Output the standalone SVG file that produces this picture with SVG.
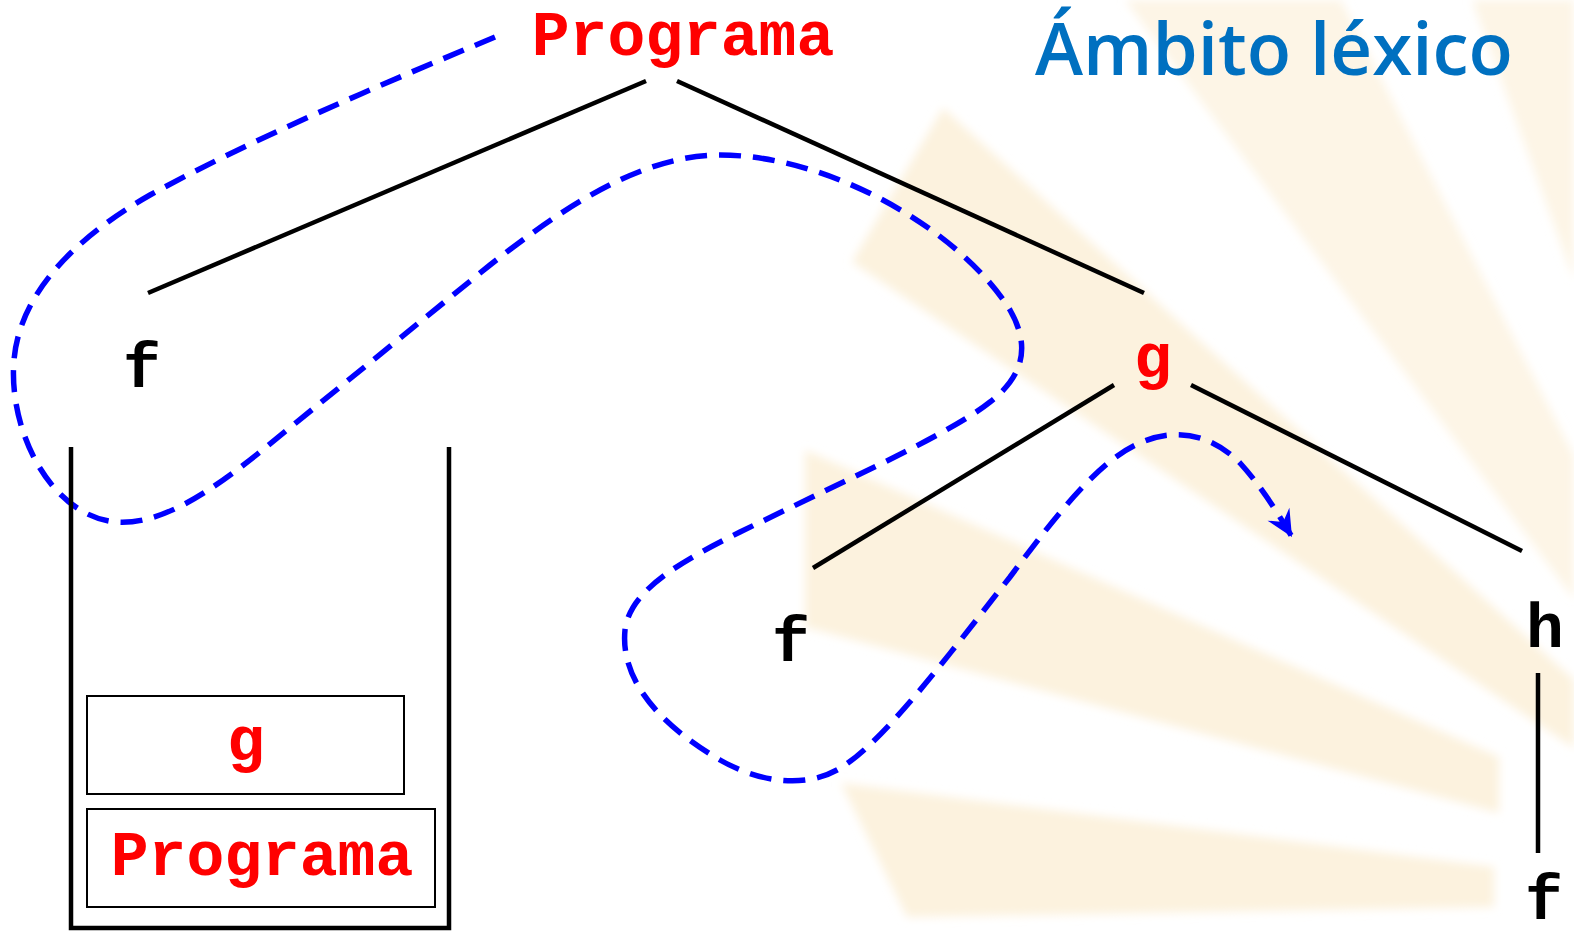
<svg xmlns="http://www.w3.org/2000/svg" width="1574" height="937" viewBox="0 0 1574 937">
<style>
.code{font-family:"Liberation Mono","DejaVu Sans Mono",monospace;font-weight:bold;font-size:63px;text-anchor:middle}
.red{fill:#ff0000}
.blk{fill:#000000}
.edge{stroke:#000;stroke-width:4.5;fill:none}
.ray{fill:#fcf2de}
.box{fill:none;stroke:#000;stroke-width:2}
.trace{fill:none;stroke:#0000ff;stroke-width:5.5;stroke-dasharray:22 12}
</style>
<defs>
<filter id="soft" x="-5%" y="-5%" width="110%" height="110%"><feGaussianBlur stdDeviation="5"/></filter>
<marker id="arr" markerUnits="userSpaceOnUse" markerWidth="30" markerHeight="30" viewBox="-24 -12 26 24" refX="0" refY="0" orient="auto">
<path d="M0,0 L-23,-11 L-15,0 L-23,11 Z" fill="#0000ff"/>
</marker>
</defs>
<rect width="1574" height="937" fill="#ffffff"/>
<g id="background" filter="url(#soft)">
<polygon class="ray" points="943,108 1574,680 1574,748 852,262"/>
<polygon class="ray" points="805,450 1499,757 1499,813 805,627"/>
<polygon class="ray" points="841,783 1494,867 1494,907 907,917"/>
<polygon class="ray" points="1125,0 1341,0 1574,456 1574,599" opacity="0.75"/>
<polygon class="ray" points="1472,0 1574,0 1574,280" opacity="0.75"/>
</g>
<g id="title">
<text x="1035" y="75" font-family="'Open Sans','DejaVu Sans',sans-serif" font-weight="600" font-size="72" fill="#0070c0" textLength="478" lengthAdjust="spacingAndGlyphs">Ámbito léxico</text>
</g>
<g id="connectors">
<line class="edge" x1="646" y1="81" x2="148" y2="293"/>
<line class="edge" x1="677" y1="81" x2="1144" y2="293"/>
<line class="edge" x1="1114" y1="385" x2="813" y2="568"/>
<line class="edge" x1="1191" y1="385" x2="1522" y2="551"/>
<line class="edge" x1="1538" y1="673" x2="1538" y2="853"/>
<path class="trace" marker-end="url(#arr)" d="M495,37 C380,85 250,140 150,195 C80,235 20,290 14,360 C8,430 50,515 115,522 C160,526 210,492 260,452 L490,265 C560,210 640,155 720,155 C830,155 960,230 1010,310 C1030,345 1025,375 990,402 C965,422 910,450 860,474 L740,532 C680,562 630,590 625,630 C620,680 660,725 720,760 C760,783 810,790 845,765 C890,735 960,640 1010,577 C1060,510 1100,460 1140,443 C1180,425 1215,438 1240,463 C1260,485 1276,510 1292,537"/>
</g>
<g id="node-programa"><text class="code red" x="683" y="55">Programa</text></g>
<g id="node-f1"><text class="code blk" x="142" y="387">f</text></g>
<g id="node-g"><text class="code red" x="1153" y="377">g</text></g>
<g id="node-f2"><text class="code blk" x="791" y="661">f</text></g>
<g id="node-h"><text class="code blk" x="1545" y="647">h</text></g>
<g id="node-f3"><text class="code blk" x="1544" y="919">f</text></g>
<g id="stack">
<polyline points="71,447 71,928 449,928 449,447" fill="none" stroke="#000" stroke-width="4.5" stroke-linejoin="miter"/>
</g>
<g id="stack-g">
<rect class="box" x="87" y="696" width="317" height="98"/>
<text class="code red" x="246" y="760">g</text>
</g>
<g id="stack-programa">
<rect class="box" x="87" y="809" width="348" height="98"/>
<text class="code red" x="262" y="875">Programa</text>
</g>
</svg>
